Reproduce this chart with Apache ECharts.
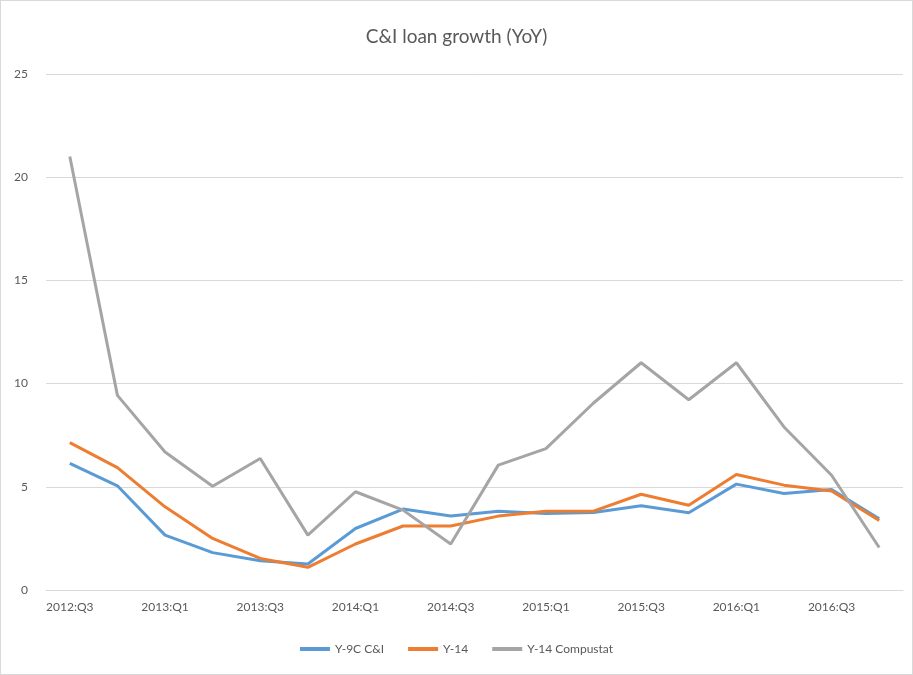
<!DOCTYPE html>
<html>
<head>
<meta charset="utf-8">
<script src="https://cdn.jsdelivr.net/npm/echarts@6/dist/echarts.min.js"></script>
<style>
  html, body { margin: 0; padding: 0; background: #fff; }
  #chart { width: 911px; height: 673px; border: 1px solid #d9d9d9; }
</style>
</head>
<body>
<div id="chart"></div>
<script>
// quarters shown on the x axis
var quarters = ['2012:Q3','2012:Q4','2013:Q1','2013:Q2','2013:Q3','2013:Q4',
  '2014:Q1','2014:Q2','2014:Q3','2014:Q4','2015:Q1','2015:Q2','2015:Q3','2015:Q4',
  '2016:Q1','2016:Q2','2016:Q3','2016:Q4'];

var y9c = [6.13, 5.05, 2.66, 1.81, 1.42, 1.26, 2.98, 3.92, 3.58, 3.82, 3.71, 3.76,
  4.08, 3.74, 5.13, 4.68, 4.87, 3.45];
var y14 = [7.14, 5.93, 4.03, 2.50, 1.53, 1.10, 2.23, 3.10, 3.10, 3.58, 3.82, 3.82,
  4.64, 4.11, 5.60, 5.08, 4.80, 3.37];
var y14comp = [21.0, 9.43, 6.69, 5.03, 6.37, 2.66, 4.76, 3.87, 2.23, 6.05, 6.85, 9.06,
  11.01, 9.22, 11.01, 7.9, 5.56, 2.06];

var font = 'Lato, "Open Sans", sans-serif';
var txt = '#595959';

var chart = echarts.init(document.getElementById('chart'));

var mkLine = function(name, data, color){
  return {
    name: name,
    type: 'line',
    data: data,
    showSymbol: false,
    symbol: 'none',
    lineStyle: { width: 3, color: color },
    itemStyle: { color: color },
    z: 2
  };
};

chart.setOption({
  animation: false,
  title: {
    text: 'C&I loan growth (YoY)',
    left: 'center',
    top: 21,
    textStyle: { fontFamily: font, fontWeight: 'normal', fontSize: 19, color: txt }
  },
  legend: {
    bottom: 14,
    left: 'center',
    icon: 'rect',
    itemWidth: 30,
    itemHeight: 4,
    itemGap: 24,
    textStyle: { fontFamily: font, fontSize: 12, color: txt },
    data: ['Y-9C C&I', 'Y-14', 'Y-14 Compustat']
  },
  grid: { left: 45, right: 9, top: 73, bottom: 84, containLabel: false },
  xAxis: {
    type: 'category',
    data: quarters,
    boundaryGap: true,
    axisLine: { show: true, lineStyle: { color: '#d9d9d9' } },
    axisTick: { show: false },
    axisLabel: { interval: 1, fontFamily: font, fontSize: 12, color: txt, margin: 11 }
  },
  yAxis: {
    type: 'value',
    min: 0,
    max: 25,
    interval: 5,
    axisLine: { show: false },
    axisTick: { show: false },
    axisLabel: { fontFamily: font, fontSize: 12, color: txt, margin: 18 },
    splitLine: { lineStyle: { color: '#d9d9d9' } }
  },
  series: [
    mkLine('Y-9C C&I', y9c, '#5B9BD5'),
    mkLine('Y-14', y14, '#ED7D31'),
    mkLine('Y-14 Compustat', y14comp, '#A5A5A5')
  ]
});
</script>
</body>
</html>
